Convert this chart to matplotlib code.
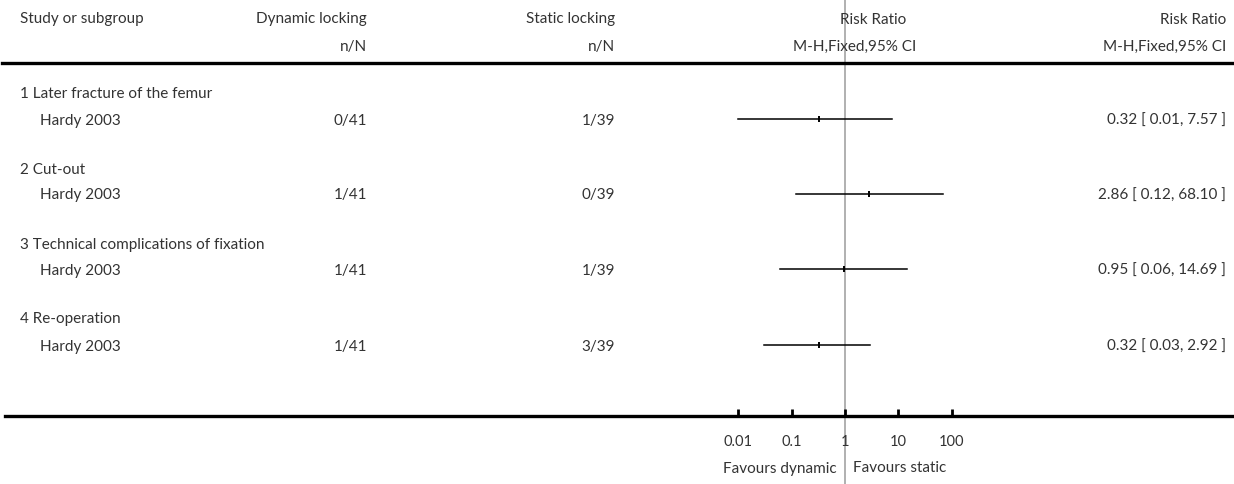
import matplotlib
matplotlib.use("Agg")
import matplotlib.pyplot as plt
from matplotlib.transforms import blended_transform_factory

# data
outcomes = [
    "1 Later fracture of the femur",
    "2 Cut-out",
    "3 Technical complications of fixation",
    "4 Re-operation",
]
studies = ["Hardy 2003", "Hardy 2003", "Hardy 2003", "Hardy 2003"]
dynamic_nN = ["0/41", "1/41", "1/41", "1/41"]
static_nN = ["1/39", "0/39", "1/39", "3/39"]
rr = [0.32, 2.86, 0.95, 0.32]
ci_lo = [0.01, 0.12, 0.06, 0.03]
ci_hi = [7.57, 68.10, 14.69, 2.92]
axis_ticks = [0.01, 0.1, 1, 10, 100]
axis_labels = ["0.01", "0.1", "1", "10", "100"]

W, H = 1234, 484
X_ONE = 845.0      # pixel column of RR = 1
PX_DECADE = 53.3   # pixels per log10 decade
DY = 1.5           # small text baseline nudge

plt.rcParams["font.family"] = ["Lato", "DejaVu Sans"]
TXT = "#333333"
FS = 11

fig = plt.figure(figsize=(W / 100, H / 100), dpi=100)
ax = fig.add_axes([0, 0, 1, 1])
ax.set_xscale("log")
ax.set_xlim(10 ** ((0 - X_ONE) / PX_DECADE), 10 ** ((W - X_ONE) / PX_DECADE))
ax.set_ylim(H, 0)
ax.axis("off")

# x in pixel columns, y in data rows
col_tr = blended_transform_factory(ax.transAxes, ax.transData)


def put(x, y, s, ha="left"):
    ax.text(x / W, y + DY, s, ha=ha, va="center", fontsize=FS, color=TXT,
            transform=col_tr)


# headers
put(20, 18, "Study or subgroup")
put(367, 18, "Dynamic locking", ha="right")
put(367, 45, "n/N", ha="right")
put(615, 18, "Static locking", ha="right")
put(615, 45, "n/N", ha="right")
put(873, 18, "Risk Ratio", ha="center")
put(855, 45, "M-H,Fixed,95% CI", ha="center")
put(1226, 18, "Risk Ratio", ha="right")
put(1226, 45, "M-H,Fixed,95% CI", ha="right")

# reference line at RR = 1
ax.axvline(1, color="#aaaaaa", lw=1.3, zorder=1)

# horizontal rules
ax.axhline(63, xmin=2 / W, xmax=1, color="black", lw=2.4)
ax.axhline(416, xmin=5 / W, xmax=1, color="black", lw=2.4)

head_y = [93, 168, 243, 318]
row_y = [119, 194, 269, 345]
for i in range(len(outcomes)):
    put(20, head_y[i], outcomes[i])
    put(40, row_y[i], studies[i])
    put(367, row_y[i], dynamic_nN[i], ha="right")
    put(615, row_y[i], static_nN[i], ha="right")
    put(1226, row_y[i], f"{rr[i]:.2f} [ {ci_lo[i]:.2f}, {ci_hi[i]:.2f} ]", ha="right")
    ax.plot([ci_lo[i], ci_hi[i]], [row_y[i], row_y[i]], color="black", lw=1.1, zorder=2)
    ax.plot([rr[i]], [row_y[i]], marker="|", markersize=5, color="black",
            markeredgewidth=1.4, zorder=3)

# scale ticks and labels
ax.vlines(axis_ticks, 409, 416, color="black", lw=2)
for t, lab in zip(axis_ticks, axis_labels):
    ax.text(t, 441 + DY, lab, ha="center", va="center", fontsize=FS - 0.5, color=TXT)
put(837, 467, "Favours dynamic", ha="right")
put(853, 467, "Favours static")

fig.savefig("out.png", dpi=100)
